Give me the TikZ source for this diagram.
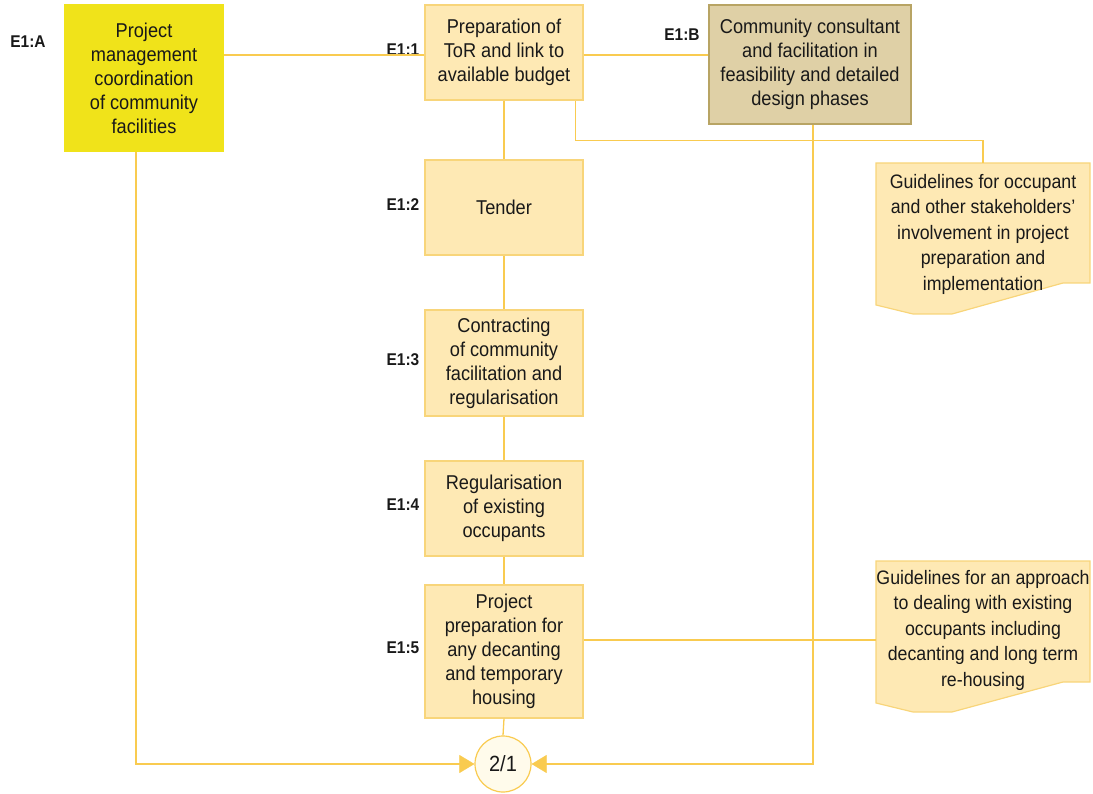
\documentclass[tikz,border=0pt]{standalone}
\usepackage{fontspec}
\setmainfont{Liberation Sans}[FakeStretch=0.91]
\usetikzlibrary{arrows.meta,calc}
\definecolor{boxfill}{HTML}{FEE9B4}
\definecolor{boxline}{HTML}{F8D57A}
\definecolor{wire}{HTML}{F9CB50}
\definecolor{leadfill}{HTML}{F0E31A}
\definecolor{consfill}{HTML}{DFD0A6}
\definecolor{consline}{HTML}{B8A464}
\definecolor{hubfill}{HTML}{FFFBEB}
\begin{document}
\begin{tikzpicture}[x=1pt,y=-1pt,
  every node/.style={font=\fontsize{20}{24}\selectfont, text=black!90},
  stepbox/.style={draw=boxline, fill=boxfill, line width=1.2pt, minimum width=158pt,
    align=center, inner sep=0pt},
  tag/.style={font=\fontsize{17}{18}\selectfont\bfseries, anchor=center},
  wireline/.style={draw=wire, line width=1.3pt},
  tip/.style={-{Triangle[length=15pt,width=18pt]}, color=wire},
  docbox/.style={draw=boxline, fill=boxfill, line width=1.2pt},
  doctext/.style={align=center, font=\fontsize{19.5}{25.5}\selectfont}]
\useasboundingbox (0,0) rectangle (1093,794);

% main sequence
\node[stepbox, minimum height=95pt] (s1) at (504,52.5) {Preparation of\\ToR and link to\\available budget};
\node[stepbox, minimum height=95pt] (s2) at (504,207.5) {Tender};
\node[stepbox, minimum height=106pt] (s3) at (504,363) {Contracting\\of community\\facilitation and\\regularisation};
\node[stepbox, minimum height=95pt] (s4) at (504,508.5) {Regularisation\\of existing\\occupants};
\node[stepbox, minimum height=133pt] (s5) at (504,651.5) {Project\\preparation for\\any decanting\\and temporary\\housing};

% side actors
\node[stepbox, fill=leadfill, draw=leadfill, minimum height=146pt] (ea) at (144,78)
  {Project\\management\\coordination\\of community\\facilities};
\node[stepbox, fill=consfill, draw=consline, minimum width=202pt, minimum height=119pt] (eb) at (810,64.5)
  {Community consultant\\and facilitation in\\feasibility and detailed\\design phases};

% hub
\node[circle, draw=wire, fill=hubfill, line width=1.2pt, minimum size=56pt, inner sep=0pt,
  font=\fontsize{22}{24}\selectfont] (hub) at (503,764) {2/1};

% tags
\node[tag] (ta) at (28,42) {E1:A};
\node[tag] (tb) at (682,35) {E1:B};
\node[tag] (t1) at (403,50) {E1:1};
\node[tag] (t2) at (403,205) {E1:2};
\node[tag] (t3) at (403,360) {E1:3};
\node[tag] (t4) at (403,505) {E1:4};
\node[tag] (t5) at (403,648) {E1:5};

% guideline documents
\coordinate (d1) at (876,163);
\draw[docbox] (d1) -- ++(214,0) -- ++(0,120) -- ++(-27,0) -- ++(-111,31) -- ++(-39,0) -- ++(-37,-9) -- cycle;
\node[doctext] (g1) at (983,234)
  {Guidelines for occupant\\and other stakeholders’\\involvement in project\\preparation and\\implementation};
\coordinate (d2) at (876,561);
\draw[docbox] (d2) -- ++(214,0) -- ++(0,121) -- ++(-27,0) -- ++(-111,30) -- ++(-39,0) -- ++(-37,-9) -- cycle;
\node[doctext] (g2) at (983,630)
  {Guidelines for an approach\\to dealing with existing\\occupants including\\decanting and long term\\re-housing};
\coordinate (d1top) at (983,163);
\coordinate (d2left) at (876,640);

% connectors
\draw[wireline] ($(s1.west)+(0,2.5)$) -- ($(s1.west -| ea.east)+(0,2.5)$);
\draw[wireline] ($(s1.east)+(0,2.5)$) -- ($(s1.east -| eb.west)+(0,2.5)$);
\draw[wireline] ($(s1.south east)+(-8,0)$) -- ++(0,40) -| (d1top);
\draw[wireline] (s1.south) -- (s2.north);
\draw[wireline] (s2.south) -- (s3.north);
\draw[wireline] (s3.south) -- (s4.north);
\draw[wireline] (s4.south) -- (s5.north);
\draw[wireline] (s5.south) -- (hub.north);
\draw[wireline] (s5.east |- d2left) -- (d2left);
\draw[wireline] ($(ea.south)+(-8,0)$) |- ($(hub.west)+(-2,0)$);
\draw[wireline] ($(eb.south)+(3,0)$) |- ($(hub.east)+(2,0)$);
\draw[tip] ($(hub.west)+(-16,0)$) -- (hub.west);
\draw[tip] ($(hub.east)+(16,0)$) -- (hub.east);
\end{tikzpicture}
\end{document}
